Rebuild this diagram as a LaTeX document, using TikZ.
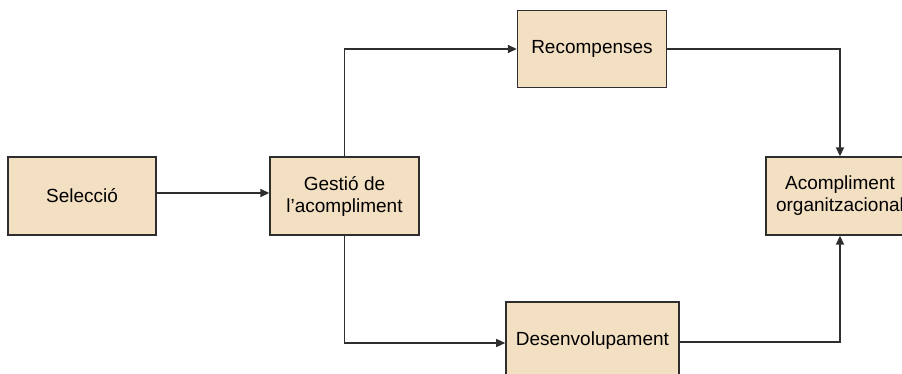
\documentclass[tikz,border=0pt]{standalone}
\usepackage{fontspec}
\setmainfont{Liberation Sans}
\usetikzlibrary{arrows.meta}
\definecolor{boxfill}{HTML}{F3E0C2}
\definecolor{boxline}{HTML}{2E2E2E}
\begin{document}
\begin{tikzpicture}[x=0.5pt,y=-0.5pt,
  stage/.style={draw=boxline,line width=0.7pt,fill=boxfill,
    minimum width=74pt,minimum height=39pt,inner sep=2pt,
    align=center,font=\fontsize{9.5}{11}\selectfont},
  link/.style={draw=boxline,line width=0.75pt,
    -{Triangle[length=4.5pt,width=4pt]}}]
\useasboundingbox (0,0) rectangle (902,374);
\node[stage] (sel) at (82,196) {Selecció};
\node[stage,minimum width=74.5pt] (ges) at (344.5,196) {Gestió de\\l’acompliment};
\node[stage,minimum width=74.5pt,minimum height=38.5pt] (rec) at (592,49) {Recompenses};
\node[stage,minimum width=86.5pt] (des) at (592.4,341) {Desenvolupament};
\node[stage] (aco) at (840,196) {Acompliment\\organitzacional};
% feed from selection sits a little above the box centres
\draw[link] ([yshift=1.5pt]sel.east) -- ([yshift=1.5pt]ges.west);
\draw[link] (ges.north) |- (rec.west);
\draw[link] (ges.south) |- ([yshift=-1pt]des.west);
\draw[link] (rec.east) -| (aco.north);
\draw[link] ([yshift=-0.5pt]des.east) -| (aco.south);
\end{tikzpicture}
\end{document}
